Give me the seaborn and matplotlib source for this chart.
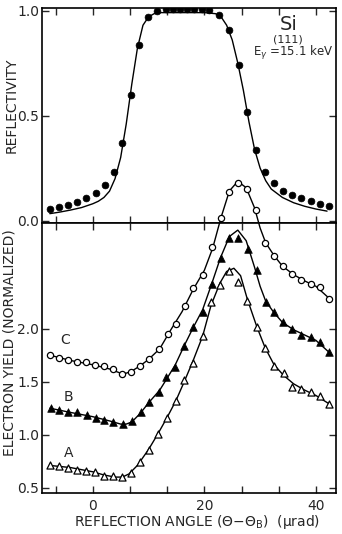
import matplotlib
matplotlib.use("Agg")
import matplotlib.pyplot as plt
import seaborn as sns

# --- upper panel: reflectivity (filled circles) ---
refl_x = [-7.65, -6.0, -4.4, -2.8, -1.15, 0.54, 2.15, 3.8, 5.3, 6.8, 8.35, 9.96, 11.5,
          13.1, 14.4, 15.7, 16.9, 18.2, 19.5, 20.9, 22.6, 24.4, 26.2, 27.7, 29.3, 30.9,
          32.5, 34.1, 35.8, 37.4, 39.1, 40.7, 42.3]
refl_y = [0.054, 0.066, 0.074, 0.089, 0.108, 0.132, 0.169, 0.232, 0.37, 0.60, 0.836, 0.968, 0.996,
          1.005, 1.005, 1.005, 1.005, 1.005, 1.005, 1.002, 0.978, 0.909, 0.741, 0.517, 0.335, 0.232,
          0.177, 0.142, 0.121, 0.108, 0.092, 0.079, 0.070]
# theory curve
refl_fit_x = [-7.7, -6, -4, -2, 0, 1, 2, 3, 4, 5, 6, 7, 8, 9, 10, 11, 12, 16, 20, 22,
              23, 24, 25, 26, 27, 28, 29, 30, 31, 32, 34, 36, 38, 40, 42]
refl_fit_y = [0.033, 0.040, 0.050, 0.062, 0.080, 0.092, 0.110, 0.140, 0.200, 0.300, 0.460, 0.650,
              0.820, 0.930, 0.970, 0.985, 0.99, 0.99, 0.99, 0.985, 0.97, 0.93, 0.86, 0.75, 0.62,
              0.47, 0.34, 0.25, 0.19, 0.15, 0.11, 0.085, 0.068, 0.055, 0.045]

# --- lower panel: electron yield ---
c_x = [-7.65, -6.0, -4.4, -2.8, -1.15, 0.47, 2.1, 3.7, 5.3, 6.9, 8.5, 10.0, 11.8, 13.4, 14.9,
       16.5, 18.0, 19.8, 21.3, 23.0, 24.5, 26.0, 27.7, 29.3, 30.9, 32.5, 34.1, 35.8, 37.4,
       39.1, 40.7, 42.3]
c_y = [1.75, 1.72, 1.70, 1.69, 1.685, 1.66, 1.65, 1.62, 1.57, 1.59, 1.65, 1.71, 1.81, 1.95, 2.04,
       2.21, 2.38, 2.51, 2.77, 3.04, 3.29, 3.37, 3.32, 3.12, 2.81, 2.69, 2.59, 2.52, 2.46,
       2.42, 2.39, 2.28]
c_fit_x = [-7.7, -4, 0, 3, 5, 6, 7, 8.5, 10, 12, 14, 16, 18, 20, 21.5, 23, 24.5, 26, 27.5,
           29, 30, 31, 32.5, 34, 36, 38, 40, 42.3]
c_fit_y = [1.75, 1.70, 1.66, 1.62, 1.58, 1.58, 1.60, 1.65, 1.71, 1.81, 1.99, 2.16, 2.37, 2.55,
           2.76, 3.05, 3.30, 3.39, 3.33, 3.14, 2.95, 2.81, 2.69, 2.59, 2.51, 2.45, 2.40, 2.29]

b_x = [-7.5, -6.0, -4.4, -2.8, -1.1, 0.5, 2.1, 3.7, 5.4, 7.0, 8.6, 10.1, 11.8, 13.1, 14.7,
       16.4, 18.0, 19.7, 21.3, 22.9, 24.5, 26.1, 27.8, 29.4, 31.0, 32.5, 34.1, 35.8, 37.4,
       39.1, 40.7, 42.3]
b_y = [1.25, 1.23, 1.21, 1.21, 1.19, 1.16, 1.135, 1.12, 1.10, 1.125, 1.21, 1.31, 1.40, 1.54, 1.64,
       1.84, 2.02, 2.16, 2.42, 2.67, 2.86, 2.86, 2.75, 2.55, 2.25, 2.16, 2.06, 2.00, 1.94,
       1.92, 1.87, 1.78]
b_fit_x = [-7.7, -4, 0, 3, 5, 6, 7, 8.5, 10, 12, 13.3, 14.8, 16.4, 18, 19.7, 21.3, 22.9, 24.5,
           26, 27.5, 29, 30, 31, 32.5, 34, 36, 38, 40, 42.3]
b_fit_y = [1.25, 1.21, 1.17, 1.13, 1.10, 1.10, 1.12, 1.20, 1.30, 1.42, 1.53, 1.66, 1.84, 2.01,
           2.18, 2.42, 2.67, 2.87, 2.93, 2.83, 2.58, 2.40, 2.26, 2.15, 2.06, 1.99, 1.94, 1.89, 1.78]

a_x = [-7.65, -6.0, -4.4, -2.8, -1.15, 0.47, 2.1, 3.7, 5.3, 6.9, 8.5, 10.0, 11.7, 13.3, 14.9,
       16.4, 18.0, 19.7, 21.2, 22.8, 24.5, 26.1, 27.7, 29.4, 30.9, 32.5, 34.2, 35.8, 37.4,
       39.1, 40.7, 42.4]
a_y = [0.71, 0.705, 0.69, 0.67, 0.66, 0.65, 0.61, 0.61, 0.60, 0.64, 0.74, 0.86, 1.01, 1.16, 1.32,
       1.52, 1.68, 1.93, 2.25, 2.415, 2.54, 2.44, 2.26, 2.02, 1.82, 1.65, 1.58, 1.45, 1.43,
       1.40, 1.365, 1.29]
a_fit_x = [-7.7, -4, 0, 2, 4, 5.3, 6.5, 8, 10, 11.7, 13.3, 14.9, 16.4, 18, 19.7, 21.2, 22.8,
           24, 25.3, 26.5, 27.7, 29.4, 30.9, 32.5, 34.2, 36, 38, 40, 42.4]
a_fit_y = [0.71, 0.69, 0.65, 0.62, 0.60, 0.60, 0.63, 0.71, 0.86, 1.01, 1.16, 1.32, 1.50, 1.70,
           1.93, 2.22, 2.43, 2.54, 2.57, 2.50, 2.28, 2.02, 1.82, 1.66, 1.56, 1.48, 1.42, 1.37, 1.29]

x_ticks = [-20 / 3, 0, 20 / 3, 40 / 3, 20, 80 / 3, 100 / 3, 40]
x_ticklabels = ["", "0", "", "", "20", "", "", "40"]

sns.set_style("ticks")
plt.rcParams["font.family"] = ["DejaVu Sans"]

fig = plt.figure(figsize=(3.42, 5.34), dpi=100)
ax1 = fig.add_axes([0.1228, 0.583, 0.8596, 0.402])
ax2 = fig.add_axes([0.1228, 0.0768, 0.8596, 0.5062])

# upper panel
sns.lineplot(x=refl_fit_x, y=refl_fit_y, ax=ax1, color="black", linewidth=1.0,
             sort=False, estimator=None)
sns.scatterplot(x=refl_x, y=refl_y, ax=ax1, color="black", s=24, marker="o",
                edgecolor="black", linewidth=0.5)
ax1.set_xlim(-9.1, 43.6)
ax1.set_ylim(-0.01, 1.012)
ax1.set_yticks([0.0, 0.5, 1.0])
ax1.set_yticklabels(["0.0", "0.5", "1.0"])
ax1.set_xticks(x_ticks)
ax1.set_xticklabels([])

# lower panel
for fx, fy in [(c_fit_x, c_fit_y), (b_fit_x, b_fit_y), (a_fit_x, a_fit_y)]:
    sns.lineplot(x=fx, y=fy, ax=ax2, color="black", linewidth=1.0, sort=False,
                 estimator=None, clip_on=False)
sns.scatterplot(x=c_x, y=c_y, ax=ax2, marker="o", s=20, facecolor="white",
                edgecolor="black", linewidth=0.9, clip_on=False, zorder=3)
sns.scatterplot(x=b_x, y=b_y, ax=ax2, marker="^", s=30, color="black",
                edgecolor="black", linewidth=0.5, zorder=3)
sns.scatterplot(x=a_x, y=a_y, ax=ax2, marker="^", s=26, facecolor="white",
                edgecolor="black", linewidth=0.9, zorder=3)
ax2.set_xlim(-9.1, 43.6)
ax2.set_ylim(0.45, 3.0)
ax2.set_yticks([0.5, 1.0, 1.5, 2.0])
ax2.set_yticklabels(["0.5", "1.0", "1.5", "2.0"])
ax2.set_xticks(x_ticks)
ax2.set_xticklabels(x_ticklabels)

for ax in (ax1, ax2):
    ax.tick_params(direction="in", top=True, right=True, length=5, width=1.0,
                   labelsize=10, pad=2)
    for sp in ax.spines.values():
        sp.set_linewidth(1.2)
        sp.set_color("black")
    ax.set_xlabel("")
    ax.set_ylabel("")
ax2.tick_params(axis="x", pad=4)

ax2.text(-5.0, 1.89, "C", fontsize=10, ha="center", va="center")
ax2.text(-4.4, 1.36, "B", fontsize=10, ha="center", va="center")
ax2.text(-4.4, 0.83, "A", fontsize=10, ha="center", va="center")

ax1.text(0.838, 0.921, "Si", transform=ax1.transAxes, fontsize=14, ha="center", va="center")
ax1.text(0.838, 0.854, "(111)", transform=ax1.transAxes, fontsize=8, ha="center", va="center")
ax1.text(0.854, 0.789, "E$_\\gamma$ =15.1 keV", transform=ax1.transAxes, fontsize=8.5,
         ha="center", va="center")

fig.text(0.035, 0.802, "REFLECTIVITY", rotation=90, ha="center", va="center", fontsize=10)
fig.text(0.029, 0.358, "ELECTRON YIELD (NORMALIZED)", rotation=90, ha="center",
         va="center", fontsize=10)
fig.text(0.576, 0.023, "REFLECTION ANGLE (\u0398\u2212\u0398$_\\mathrm{B}$)  (\u03bcrad)",
         ha="center", va="center", fontsize=10)

fig.savefig("out.png", dpi=100)
